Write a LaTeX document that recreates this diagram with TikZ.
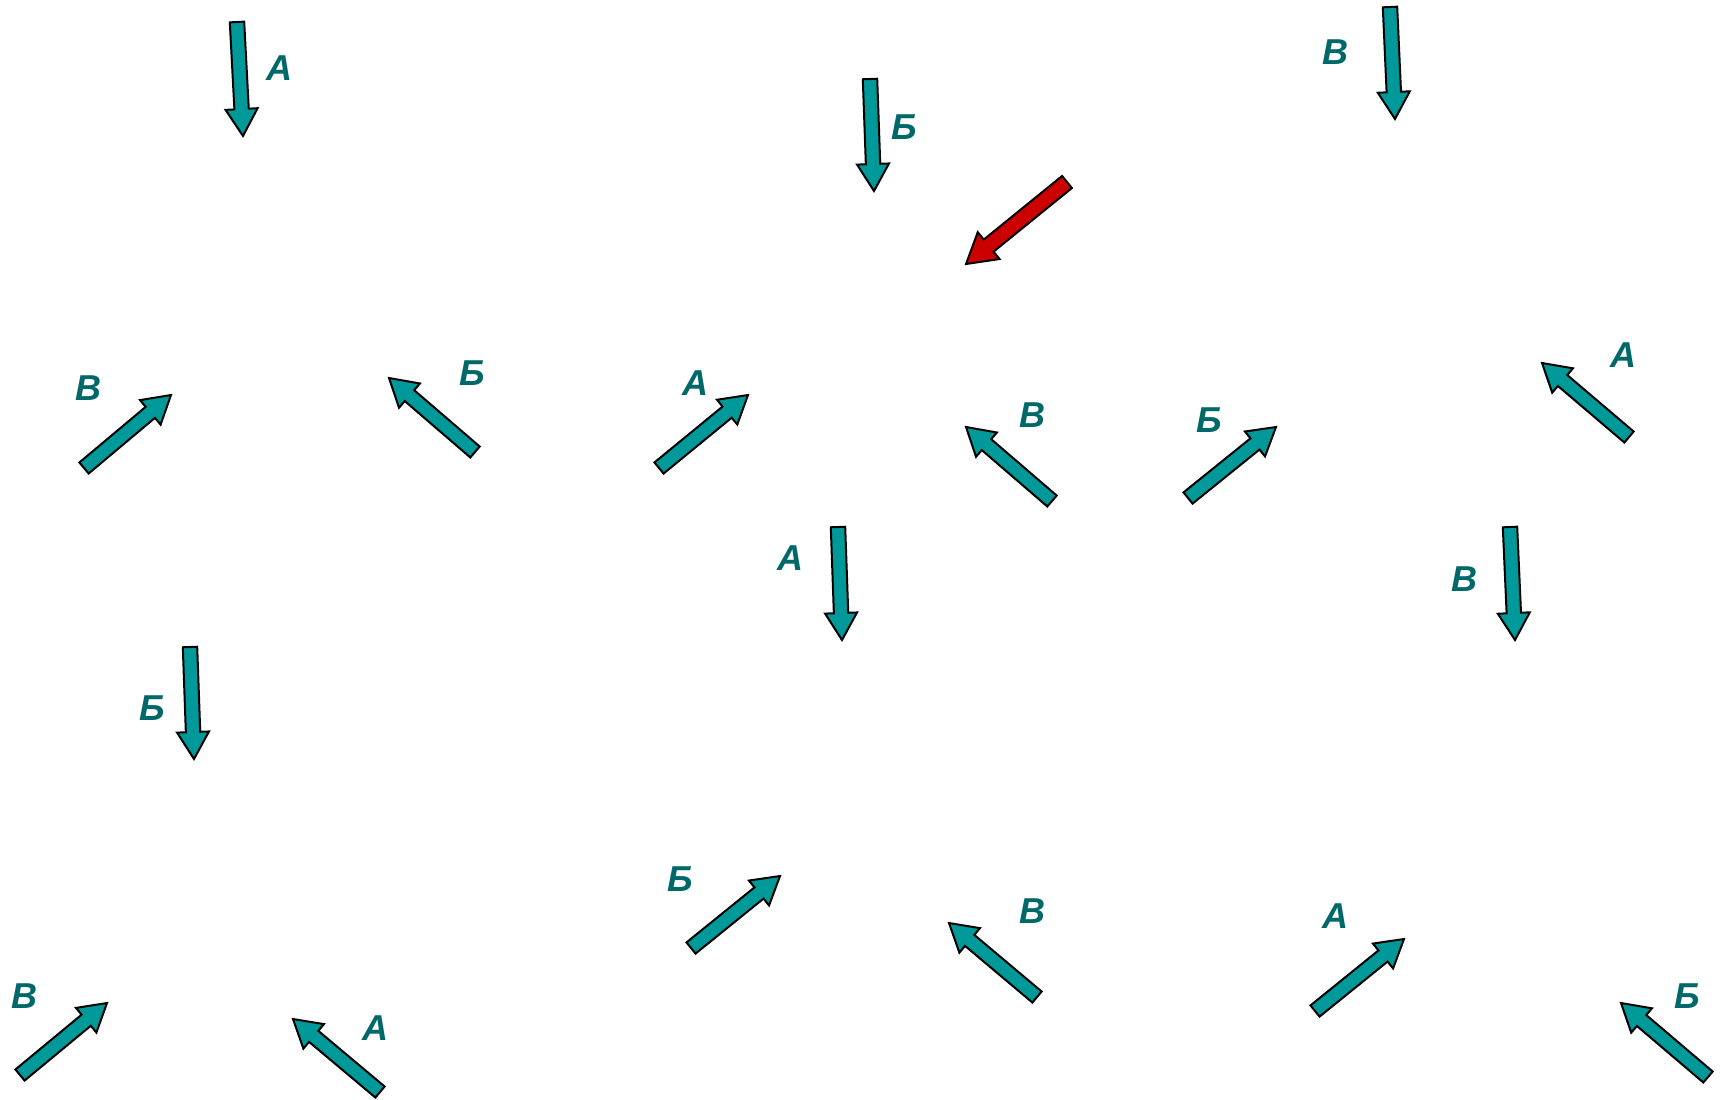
\documentclass[tikz,border=0pt]{standalone}
\usepackage{fontspec}
\setmainfont{Liberation Sans}
\usetikzlibrary{calc}
\definecolor{arrteal}{HTML}{009999}
\definecolor{labteal}{HTML}{006868}
\definecolor{arrred}{HTML}{CC0000}
\newcommand{\fatarrow}[5]{%
  % #1 name, #2 tail, #3 tip, #4 fill colour, #5 scale
  \coordinate (#1t) at #2;
  \coordinate (#1p) at #3;
  \coordinate (#1n) at ($(#1p)!#5*13.5pt!(#1t)$);
  \draw[arrowshape, fill=#4]
    ($(#1t)!#5*3.6pt!90:(#1p)$) --
    ($(#1n)!#5*3.6pt!90:(#1p)$) --
    ($(#1n)!#5*8pt!90:(#1p)$) --
    (#1p) --
    ($(#1n)!#5*8pt!-90:(#1p)$) --
    ($(#1n)!#5*3.6pt!-90:(#1p)$) --
    ($(#1t)!#5*3.6pt!-90:(#1p)$) -- cycle;
}
\begin{document}
\begin{tikzpicture}[x=0.5pt,y=-0.5pt,
  arrowshape/.style={draw=black, line width=1pt, line join=miter},
  lab/.style={text=labteal, font=\fontsize{18pt}{18pt}\selectfont\bfseries\itshape, inner sep=0pt, anchor=center}]
\useasboundingbox (0,0) rectangle (1729,1099);
% down arrows
\fatarrow{a1}{(237,22)}{(243,136)}{arrteal}{1}
\fatarrow{a2}{(870,79)}{(874,191)}{arrteal}{1}
\fatarrow{a3}{(1390,7)}{(1395,119)}{arrteal}{1}
\fatarrow{a4}{(838,527)}{(842,640)}{arrteal}{1}
\fatarrow{a5}{(1510,527)}{(1515,640)}{arrteal}{1}
\fatarrow{a6}{(190,647)}{(194,759)}{arrteal}{1}
% red arrow
\fatarrow{r}{(1067,182)}{(966,264)}{arrred}{1.08}
% up-right arrows
\fatarrow{a7}{(84,468)}{(171,395)}{arrteal}{1}
\fatarrow{a8}{(659,468)}{(748,395)}{arrteal}{1}
\fatarrow{a9}{(1188,498)}{(1276,427)}{arrteal}{1}
\fatarrow{a10}{(691,948)}{(780,876)}{arrteal}{1}
\fatarrow{a11}{(1315,1011)}{(1404,939)}{arrteal}{1}
\fatarrow{a12}{(20,1075)}{(107,1003)}{arrteal}{1}
% up-left arrows
\fatarrow{a13}{(475,452)}{(389,378)}{arrteal}{1}
\fatarrow{a14}{(1052,501)}{(966,427)}{arrteal}{1}
\fatarrow{a15}{(1629,437)}{(1542,363)}{arrteal}{1}
\fatarrow{a16}{(1037,997)}{(949,923)}{arrteal}{1}
\fatarrow{a17}{(380,1092)}{(293,1019)}{arrteal}{1}
\fatarrow{a18}{(1708,1077)}{(1621,1003)}{arrteal}{1}
% labels
\node[lab] (l1) at (279,68) {А};
\node[lab] (l2) at (904,127) {Б};
\node[lab] (l3) at (1335,52) {В};
\node[lab] (l4) at (790,558) {А};
\node[lab] (l5) at (1464,579) {В};
\node[lab] (l6) at (152,708) {Б};
\node[lab] (l7) at (88,388) {В};
\node[lab] (l13) at (472,373) {Б};
\node[lab] (l8) at (695,383) {А};
\node[lab] (l14) at (1032,415) {В};
\node[lab] (l9) at (1209,420) {Б};
\node[lab] (l15) at (1623,355) {А};
\node[lab] (l10) at (680,879) {Б};
\node[lab] (l16) at (1032,911) {В};
\node[lab] (l11) at (1335,916) {А};
\node[lab] (l12) at (24,996) {В};
\node[lab] (l17) at (375,1028) {А};
\node[lab] (l18) at (1687,996) {Б};
\end{tikzpicture}
\end{document}
